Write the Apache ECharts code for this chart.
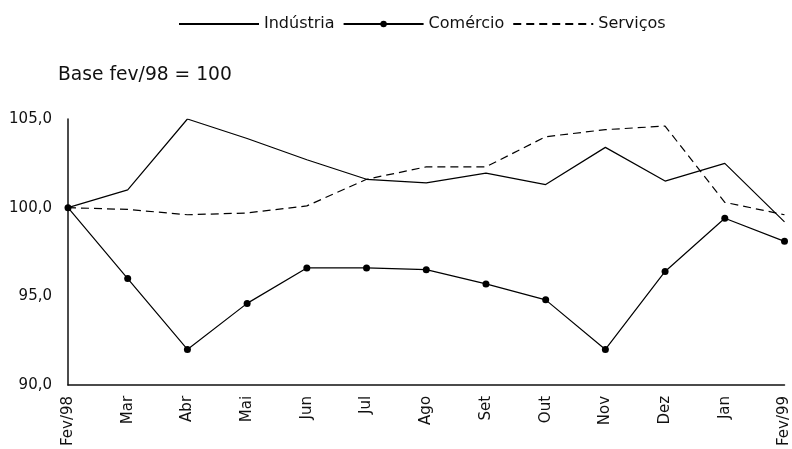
<!DOCTYPE html>
<html>
<head>
<meta charset="utf-8">
<script src="https://cdn.jsdelivr.net/npm/echarts@6/dist/echarts.min.js"></script>
<style>
  html, body { margin: 0; padding: 0; background: #fff; }
  #chart { width: 792px; height: 449px; }
</style>
</head>
<body>
<div id="chart"></div>
<script>
// Month labels, Feb/1998 through Feb/1999
const months = ['Fev/98', 'Mar', 'Abr', 'Mai', 'Jun', 'Jul', 'Ago', 'Set', 'Out', 'Nov', 'Dez', 'Jan', 'Fev/99'];

// Index values (base fev/98 = 100)
const industria = [100.0, 101.0, 105.0, 103.9, 102.7, 101.6, 101.4, 101.95, 101.3, 103.4, 101.5, 102.5, 99.2];
const comercio  = [100.0, 96.0, 92.0, 94.6, 96.6, 96.6, 96.5, 95.7, 94.8, 92.0, 96.4, 99.4, 98.1];
const servicos  = [100.0, 99.9, 99.6, 99.7, 100.1, 101.6, 102.3, 102.3, 104.0, 104.4, 104.6, 100.3, 99.6];

// Value axis range and step
const yMin = 90, yMax = 105, yStep = 5;

const FONT = 'DejaVu Sans';
const INK = '#111';

const chart = echarts.init(document.getElementById('chart'), null, { renderer: 'canvas' });

chart.setOption({
  animation: false,
  backgroundColor: '#fff',
  title: {
    text: 'Base fev/98 = 100',
    left: 58,
    top: 66,
    padding: 0,
    textStyle: { fontFamily: FONT, fontSize: 18.7, fontWeight: 'normal', color: INK }
  },
  legend: {
    left: 178,
    top: 16,
    padding: 0,
    itemWidth: 80,
    itemHeight: 8,
    itemGap: 8,
    textStyle: { fontFamily: FONT, fontSize: 16, color: INK },
    data: [
      // plain line keys carry no marker
      { name: 'Indústria', itemStyle: { opacity: 0 } },
      { name: 'Comércio' },
      { name: 'Serviços', itemStyle: { opacity: 0 } }
    ]
  },
  grid: { left: 68, right: 7, top: 119, bottom: 62, containLabel: false },
  xAxis: {
    type: 'category',
    data: months,
    boundaryGap: false,
    axisLine: { show: true, lineStyle: { color: INK, width: 1.5 } },
    axisTick: { show: false },
    axisLabel: {
      interval: 0,
      rotate: 90,
      margin: 11,
      fontFamily: FONT,
      fontSize: 15,
      color: INK
    },
    splitLine: { show: false }
  },
  yAxis: {
    type: 'value',
    min: yMin,
    max: yMax,
    interval: yStep,
    axisLine: { show: true, lineStyle: { color: INK, width: 1.5 } },
    axisTick: { show: false },
    splitLine: { show: false },
    axisLabel: {
      margin: 16,
      fontFamily: FONT,
      fontSize: 15,
      color: INK,
      formatter: v => v.toFixed(1).replace('.', ',')
    }
  },
  series: [
    {
      name: 'Indústria',
      type: 'line',
      data: industria,
      symbol: 'none',
      lineStyle: { color: '#000', width: 1.2 },
      itemStyle: { color: '#000' }
    },
    {
      name: 'Comércio',
      type: 'line',
      data: comercio,
      symbol: 'circle',
      symbolSize: 7,
      lineStyle: { color: '#000', width: 1.2 },
      itemStyle: { color: '#000' }
    },
    {
      name: 'Serviços',
      type: 'line',
      data: servicos,
      symbol: 'none',
      lineStyle: { color: '#000', width: 1.2, type: [8, 5] },
      itemStyle: { color: '#000' }
    }
  ]
});
</script>
</body>
</html>
